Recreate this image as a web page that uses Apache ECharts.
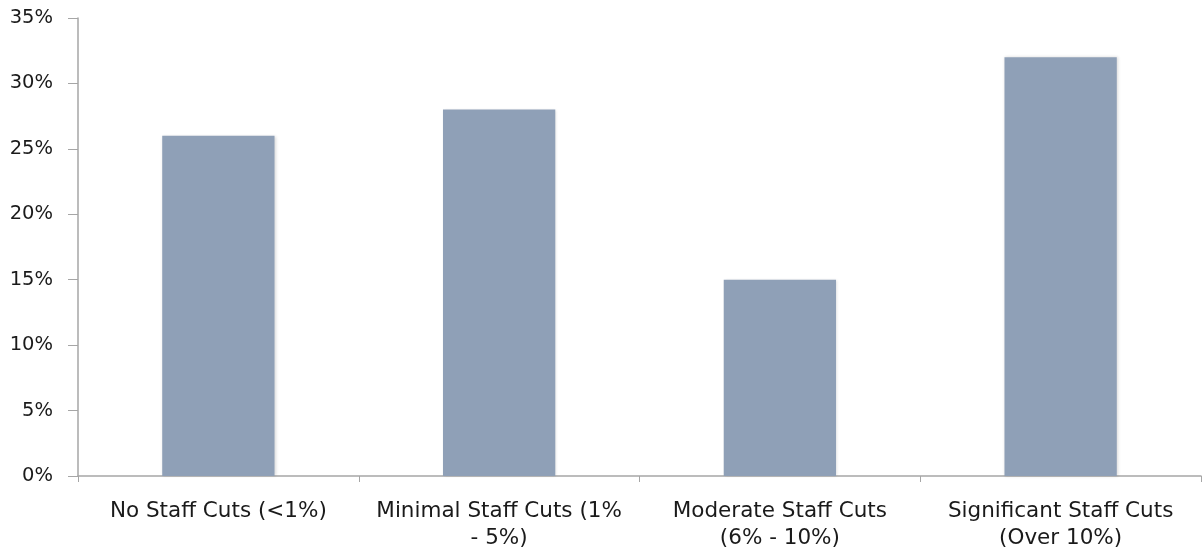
<!DOCTYPE html>
<html>
<head>
<meta charset="utf-8">
<script src="https://cdn.jsdelivr.net/npm/echarts@6/dist/echarts.min.js"></script>
<style>html,body{margin:0;padding:0;background:#fff}#c{width:1202px;height:557px}</style>
</head>
<body>
<div id="c"></div>
<script>
const categories = ["No Staff Cuts (<1%)", "Minimal Staff Cuts (1%\n- 5%)", "Moderate Staff Cuts\n(6% - 10%)", "Significant Staff Cuts\n(Over 10%)"];
const values = [26, 28, 15, 32];
const yTicks = [0, 5, 10, 15, 20, 25, 30, 35];

const chart = echarts.init(document.getElementById('c'), null, {renderer: 'canvas'});
chart.setOption({
  animation: false,
  grid: {left: 78, right: 1, top: 18, bottom: 81},
  xAxis: {
    type: 'category',
    data: categories,
    axisLine: {lineStyle: {color: '#a6a6a6', width: 1.5}},
    axisTick: {show: true, length: 6, lineStyle: {color: '#a6a6a6'}},
    axisLabel: {color: '#1a1a1a', fontFamily: 'DejaVu Sans', fontSize: 21.5, margin: 22, lineHeight: 27, interval: 0}
  },
  yAxis: {
    type: 'value',
    min: yTicks[0], max: yTicks[yTicks.length - 1], interval: 5,
    axisLine: {show: true, lineStyle: {color: '#a6a6a6', width: 1.5}},
    axisTick: {show: true, length: 10, lineStyle: {color: '#a6a6a6'}},
    splitLine: {show: false},
    axisLabel: {color: '#1a1a1a', fontFamily: 'DejaVu Sans', fontSize: 19.5, margin: 25, formatter: v => v + '%'}
  },
  series: [{
    type: 'bar',
    data: values,
    barWidth: '40%',
    itemStyle: {color: '#8fa0b7', shadowColor: 'rgba(0,0,0,0.15)', shadowBlur: 3, shadowOffsetX: 1, shadowOffsetY: 0}
  }]
});
</script>
</body>
</html>
